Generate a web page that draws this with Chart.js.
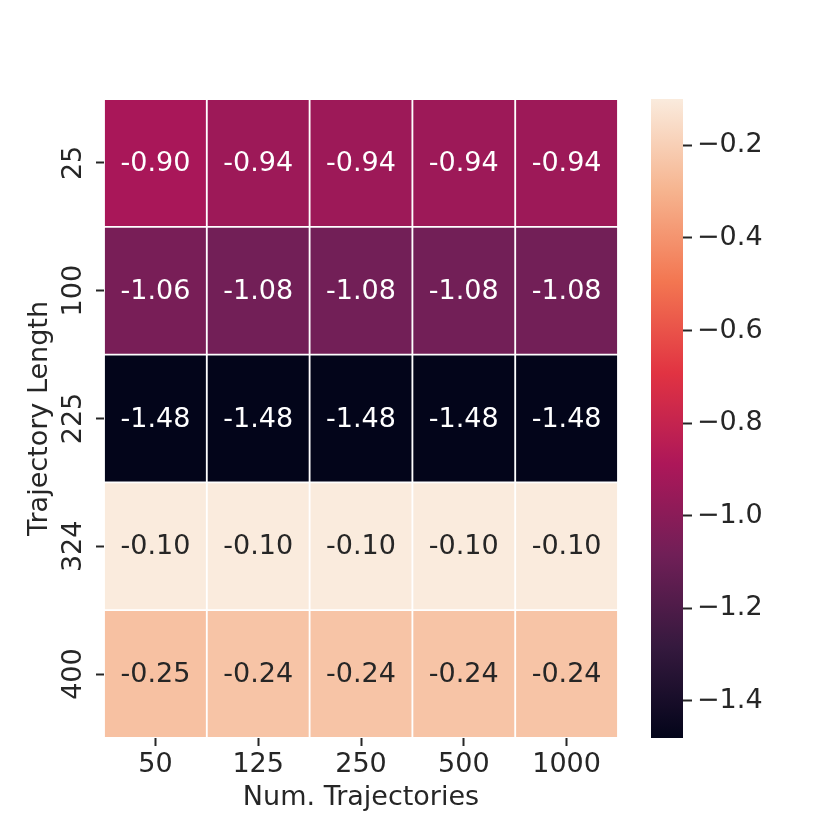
<!DOCTYPE html>
<html>
<head>
<meta charset="utf-8">
<script src="https://cdn.jsdelivr.net/npm/chart.js@4.4.1/dist/chart.umd.min.js"></script>
<style>
  html, body { margin: 0; padding: 0; background: #ffffff; }
  #wrap { position: relative; width: 830px; height: 830px; overflow: hidden; }
  #heatmap { position: absolute; left: 0; top: 0; }
  #colorbar { position: absolute; left: 640px; top: 0; }
</style>
</head>
<body>
<div id="wrap">
  <canvas id="heatmap" width="640" height="830"></canvas>
  <canvas id="colorbar" width="190" height="830"></canvas>
</div>
<script>
// data, top row first
const numTrajectories = ["50", "125", "250", "500", "1000"]
const trajectoryLengths = ["25", "100", "225", "324", "400"]
const row25 = [-0.90, -0.94, -0.94, -0.94, -0.94]
const row100 = [-1.06, -1.08, -1.08, -1.08, -1.08]
const row225 = [-1.48, -1.48, -1.48, -1.48, -1.48]
const row324 = [-0.10, -0.10, -0.10, -0.10, -0.10]
const row400 = [-0.25, -0.24, -0.24, -0.24, -0.24]
const rows = [row25, row100, row225, row324, row400]
const colorbarTicks = [-1.4, -1.2, -1.0, -0.8, -0.6, -0.4, -0.2]
const vmin = -1.48
const vmax = -0.10

// rocket colormap stops
const rocket = [
	[0.000, 3, 5, 26],
	[0.143, 53, 25, 62],
	[0.286, 112, 31, 87],
	[0.429, 173, 23, 89],
	[0.571, 225, 51, 66],
	[0.714, 243, 118, 81],
	[0.857, 246, 180, 143],
	[1.000, 250, 235, 221]
]

function rocketRgb(t) {
	t = Math.max(0, Math.min(1, t))
	for (let i = 1; i < rocket.length; i++) {
		if (t <= rocket[i][0]) {
			const a = rocket[i - 1], b = rocket[i]
			const f = (t - a[0]) / (b[0] - a[0])
			return [0, 1, 2].map(k => Math.round(a[k + 1] + (b[k + 1] - a[k + 1]) * f))
		}
	}
	return rocket[rocket.length - 1].slice(1)
}

function colorFor(v) {
	const c = rocketRgb((v - vmin) / (vmax - vmin))
	return `rgb(${c[0]}, ${c[1]}, ${c[2]})`
}

// same rule seaborn uses to pick the annotation colour
function textColorFor(v) {
	const c = rocketRgb((v - vmin) / (vmax - vmin)).map(x => {
		x = x / 255
		return x <= 0.03928 ? x / 12.92 : Math.pow((x + 0.055) / 1.055, 2.4)
	})
	const lum = 0.2126 * c[0] + 0.7152 * c[1] + 0.0722 * c[2]
	return lum > 0.408 ? "#262626" : "#ffffff"
}

Chart.defaults.font.family = "'DejaVu Sans', sans-serif"
Chart.defaults.font.size = 27
Chart.defaults.color = "#262626"

const tickGrid = {
	drawOnChartArea: false,
	drawTicks: true,
	tickLength: 8,
	tickWidth: 2,
	tickColor: "#262626"
}

// stacked unit bars, bottom row first
const datasets = rows.slice().reverse().map(values => ({
	data: values.map(() => 1),
	values: values,
	backgroundColor: values.map(colorFor),
	borderColor: "#ffffff",
	borderWidth: 1.25,
	borderSkipped: false,
	categoryPercentage: 1,
	barPercentage: 1
}))

const annotate = {
	id: "annotate",
	afterDatasetsDraw(chart) {
		const ctx = chart.ctx
		ctx.save()
		ctx.font = "27px 'DejaVu Sans', sans-serif"
		ctx.textAlign = "center"
		ctx.textBaseline = "middle"
		chart.data.datasets.forEach((ds, di) => {
			const meta = chart.getDatasetMeta(di)
			meta.data.forEach((bar, i) => {
				const p = bar.getCenterPoint()
				ctx.fillStyle = textColorFor(ds.values[i])
				ctx.fillText(ds.values[i].toFixed(2), p.x, p.y + 1)
			})
		})
		ctx.restore()
	}
}

new Chart("heatmap", {
	type: "bar",
	data: {
		labels: numTrajectories,
		datasets: datasets
	},
	options: {
		responsive: false,
		devicePixelRatio: 1,
		animation: false,
		layout: { padding: { top: 99, right: 22, left: 0, bottom: 0 } },
		plugins: { legend: { display: false }, tooltip: { enabled: false } },
		scales: {
			x: {
				stacked: true,
				offset: true,
				grid: Object.assign({ offset: false }, tickGrid),
				border: { display: false },
				ticks: { padding: 3, maxRotation: 0 },
				title: {
					display: true,
					text: "Num. Trajectories",
					padding: { bottom: 16 }
				},
				afterFit(scale) { scale.height = 92 }
			},
			y: {
				stacked: true,
				min: 0,
				max: 5,
				grid: tickGrid,
				border: { display: false },
				afterBuildTicks(scale) {
					scale.ticks = trajectoryLengths.map((_, i) => ({ value: i + 0.5 }))
				},
				ticks: {
					minRotation: 90,
					maxRotation: 90,
					crossAlign: "center",
					padding: -4,
					callback: (value, index) => trajectoryLengths[trajectoryLengths.length - 1 - index]
				},
				title: {
					display: true,
					text: "Trajectory Length",
					padding: { top: 24 }
				},
				afterFit(scale) { scale.width = 104 }
			}
		}
	},
	plugins: [annotate]
})

new Chart("colorbar", {
	type: "bar",
	data: {
		labels: [""],
		datasets: [{
			data: [[vmin, vmax]],
			borderWidth: 0,
			categoryPercentage: 1,
			barPercentage: 1,
			backgroundColor(c) {
				const area = c.chart.chartArea
				if (!area) return "#000000"
				const g = c.chart.ctx.createLinearGradient(0, area.bottom, 0, area.top)
				rocket.forEach(s => g.addColorStop(s[0], `rgb(${s[1]}, ${s[2]}, ${s[3]})`))
				return g
			}
		}]
	},
	options: {
		responsive: false,
		devicePixelRatio: 1,
		animation: false,
		layout: { padding: { top: 99, left: 11, right: 0, bottom: 92 } },
		plugins: { legend: { display: false }, tooltip: { enabled: false } },
		scales: {
			x: { display: false },
			y: {
				position: "right",
				min: vmin,
				max: vmax,
				grid: Object.assign({}, tickGrid, { tickLength: 9 }),
				border: { display: false },
				afterBuildTicks(scale) {
					scale.ticks = colorbarTicks.map(v => ({ value: v }))
				},
				ticks: {
					padding: 5,
					callback: v => "\u2212" + Math.abs(v).toFixed(1)
				},
				afterFit(scale) { scale.width = 147 }
			}
		}
	}
})
</script>
</body>
</html>
